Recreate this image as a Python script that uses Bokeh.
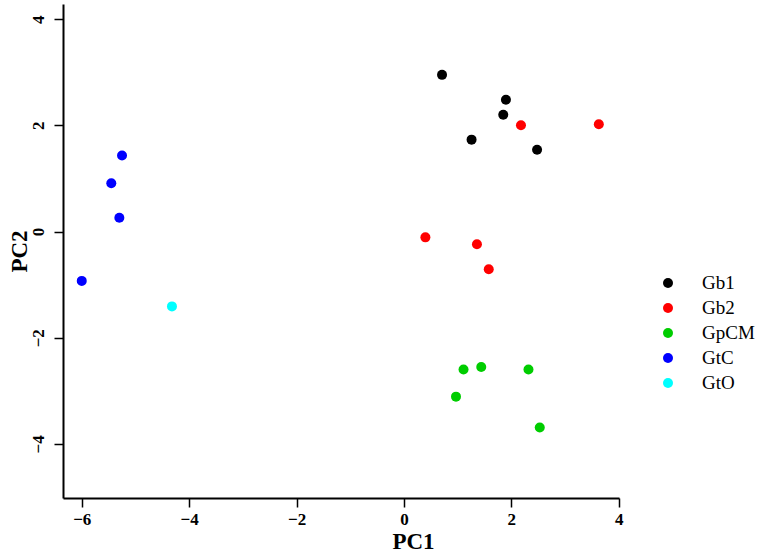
from bokeh.plotting import figure
from bokeh.models import Legend, LegendItem, FixedTicker, Range1d
from bokeh.embed import file_html
from bokeh.resources import INLINE

# ---- data ----
groups = ["Gb1", "Gb2", "GpCM", "GtC", "GtO"]
colors = ["#000000", "#FF0000", "#00CD00", "#0000FF", "#00FFFF"]
gb1_x = [0.70, 1.89, 1.84, 1.25, 2.47]
gb1_y = [2.96, 2.49, 2.21, 1.74, 1.55]
gb2_x = [2.17, 3.62, 0.39, 1.35, 1.57]
gb2_y = [2.01, 2.03, -0.10, -0.23, -0.70]
gpcm_x = [1.10, 1.43, 2.31, 0.96, 2.52]
gpcm_y = [-2.59, -2.54, -2.59, -3.10, -3.68]
gtc_x = [-5.26, -5.46, -5.31, -6.01]
gtc_y = [1.44, 0.92, 0.27, -0.92]
gto_x = [-4.33]
gto_y = [-1.40]
x_ticks = [-6, -4, -2, 0, 2, 4]
y_ticks = [-4, -2, 0, 2, 4]
x_title = "PC1"
y_title = "PC2"

series_x = [gb1_x, gb2_x, gpcm_x, gtc_x, gto_x]
series_y = [gb1_y, gb2_y, gpcm_y, gtc_y, gto_y]

# x axis box spans -6.35..4.005; the frame extends further right to host the legend
x_axis_bounds = (-6.35, 4.005)

p = figure(width=763, height=556, output_backend="svg", toolbar_location=None,
           x_range=Range1d(-6.35, 6.687), y_range=Range1d(-5.018, 4.285),
           min_border_left=63, min_border_right=0, min_border_top=4,
           min_border_bottom=52)
p.outline_line_color = None
p.xgrid.visible = False
p.ygrid.visible = False
p.background_fill_color = "white"
p.border_fill_color = "white"

items = []
for name, col, xs, ys in zip(groups, colors, series_x, series_y):
    r = p.scatter(xs, ys, size=10, fill_color=col, line_color=None)
    items.append(LegendItem(label=name, renderers=[r]))

serif = "Liberation Serif"
def minus(v):
    return str(v).replace("-", "\u2212")

for ax, ticks in ((p.xaxis[0], x_ticks), (p.yaxis[0], y_ticks)):
    ax.ticker = FixedTicker(ticks=ticks)
    ax.major_label_overrides = {t: minus(t) for t in ticks}
    ax.minor_tick_line_color = None
    ax.axis_line_width = 2
    ax.axis_line_color = "black"
    ax.major_tick_line_width = 1.5
    ax.major_tick_line_color = "black"
    ax.major_tick_in = 0
    ax.major_tick_out = 9
    ax.major_label_text_font = serif
    ax.major_label_text_font_style = "bold"
    ax.major_label_text_font_size = "17px"
    ax.major_label_text_color = "black"
    ax.axis_label_text_font = serif
    ax.axis_label_text_font_style = "bold"
    ax.axis_label_text_font_size = "23px"
    ax.axis_label_text_color = "black"

p.xaxis[0].bounds = x_axis_bounds
p.xaxis[0].axis_label = x_title
p.yaxis[0].axis_label = y_title
p.xaxis[0].major_label_standoff = 6
p.xaxis[0].axis_label_standoff = 1
p.yaxis[0].major_label_standoff = 10
p.yaxis[0].axis_label_standoff = -1
p.yaxis[0].major_label_orientation = "vertical"

legend = Legend(items=items, location=(592, 103), orientation="vertical",
                border_line_color=None, background_fill_alpha=0,
                padding=0, margin=0, spacing=0,
                glyph_width=25, glyph_height=25, label_height=25,
                label_standoff=22, label_text_font=serif,
                label_text_font_size="19px", label_text_color="black",
                label_text_baseline="middle")
p.add_layout(legend, "center")

open("out.html", "w").write(file_html(p, INLINE))
